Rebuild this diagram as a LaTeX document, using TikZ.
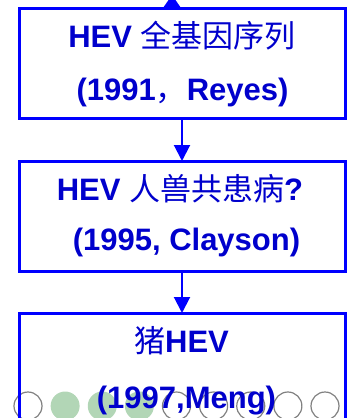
\documentclass[tikz,border=0pt]{standalone}
\usepackage{fontspec}
\setmainfont{Liberation Sans}
\newfontfamily\cjkfam{Noto Sans CJK SC}
\newcommand\zhtext[1]{{\cjkfam\mdseries #1}}
\usetikzlibrary{arrows.meta}
\definecolor{boxblue}{RGB}{0,0,255}
\definecolor{txtblue}{RGB}{0,0,204}
\definecolor{dotgreen}{RGB}{178,214,182}
\definecolor{dotgray}{RGB}{128,128,128}
\tikzset{
  box/.style={draw=boxblue,line width=3pt,minimum width=326pt,minimum height=110pt,inner sep=0pt,outer sep=0pt},
  txt/.style={anchor=base,text=txtblue,font=\fontsize{31}{37}\selectfont\bfseries,inner sep=0pt},
  link/.style={draw=boxblue,line width=2pt,-{Triangle[length=16pt,width=16pt]}},
  emptydot/.style={circle,draw=dotgray,line width=1.2pt,minimum size=28pt,inner sep=0pt},
  fulldot/.style={circle,fill=dotgreen,minimum size=29pt,inner sep=0pt}
}
\begin{document}
\begin{tikzpicture}[x=1pt,y=-1pt]
\useasboundingbox (0,0) rectangle (347,418);
\clip (0,0) rectangle (347,418);
% navigation dots
\foreach \i in {0,4,5,6,7,8} {\node[emptydot] (d\i) at ({28+37.125*\i},406) {};}
\foreach \i in {1,2,3} {\node[fulldot] (d\i) at ({28+37.125*\i},406) {};}
% fragment of incoming arrow
\fill[boxblue] (163,8) -- (181,8) -- (172,-5) -- cycle;
% boxes
\node[box] (b1) at (182,63) {};
\node[box] (b2) at (182,216) {};
\node[box] (b3) at (182,368) {};
% texts
\node[txt] (t1a) at (182,47) {HEV \zhtext{全基因序列}};
\node[txt] (t1b) at (182.5,100) {(1991\zhtext{，}Reyes)};
\node[txt] (t2a) at (180,200) {HEV \zhtext{人兽共患病}?};
\node[txt] (t2b) at (186.5,250) {(1995, Clayson)};
\node[txt] (t3a) at (181.5,352) {\zhtext{猪}HEV};
\node[txt] (t3b) at (186.5,408) {(1997,Meng)};
% connectors
\draw[link] (b1.south) -- (b2.north);
\draw[link] (b2.south) -- (b3.north);
\end{tikzpicture}
\end{document}
